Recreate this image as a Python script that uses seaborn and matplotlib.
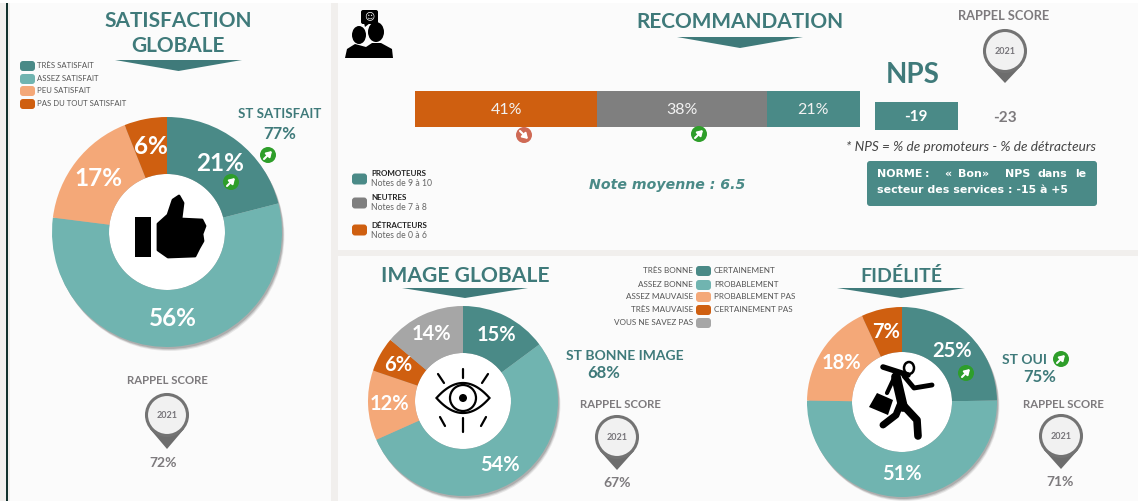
import numpy as np
import pandas as pd
import matplotlib
matplotlib.use("Agg")
import matplotlib.pyplot as plt
from matplotlib.patches import Circle, Polygon, Rectangle, FancyBboxPatch, Ellipse
import seaborn as sns

# Donut values
satisfaction_values = [21, 56, 17, 6]
image_values = [15, 54, 12, 6, 14]
fidelite_values = [25, 51, 18, 7]

# Recommendation bar
reco_labels = ["Détracteurs", "Neutres", "Promoteurs"]
reco_values = [41, 38, 21]

nps_current = "-19"
nps_previous = "-23"

satisfaction_legend = ["TRÈS SATISFAIT", "ASSEZ SATISFAIT", "PEU SATISFAIT", "PAS DU TOUT SATISFAIT"]
image_legend = ["TRÈS BONNE", "ASSEZ BONNE", "ASSEZ MAUVAISE", "TRÈS MAUVAISE", "VOUS NE SAVEZ PAS"]
fidelite_legend = ["CERTAINEMENT", "PROBABLEMENT", "PROBABLEMENT PAS", "CERTAINEMENT PAS"]

DARK_TEAL = "#4a8a87"
LIGHT_TEAL = "#70b4b0"
PEACH = "#f4a878"
ORANGE = "#cf5f10"
GREY = "#7f7f7f"
LIGHT_GREY = "#a6a6a6"
TITLE = "#3f7a7a"
FONT = "Lato"

W, H = 1138, 501

sns.set_theme(style="white")
plt.rcParams["font.family"] = [FONT, "DejaVu Sans"]

fig = plt.figure(figsize=(W / 100, H / 100), dpi=100, facecolor="white")


# Axes placed with pixel coordinates of the picture
def px_axes(x0, y0, x1, y1, zorder):
    ax = fig.add_axes([x0 / W, 1 - y1 / H, (x1 - x0) / W, (y1 - y0) / H], zorder=zorder)
    ax.set_facecolor("none")
    return ax


bg = px_axes(0, 0, W, H, 0)
bg.set_xlim(0, W)
bg.set_ylim(H, 0)
bg.axis("off")
over = px_axes(0, 0, W, H, 5)
over.set_xlim(0, W)
over.set_ylim(H, 0)
over.axis("off")

# Panels behind the charts
bg.add_patch(Rectangle((0, 3), W, H, color="#f1efed", lw=0))
bg.add_patch(Rectangle((10, 3), 321, H, color="#fbfbfb", lw=0))
bg.add_patch(Rectangle((338, 3), W, 247, color="#fbfbfb", lw=0))
bg.add_patch(Rectangle((338, 256), W, H, color="#fbfbfb", lw=0))
bg.add_patch(Rectangle((6, 3), 2, H, color="#12302c", lw=0))


def donut(values, colors, cx, cy, r, r_in, label_r, fs):
    # soft shadow under the ring
    for off, a in [(4, 0.12), (3, 0.18), (2, 0.25)]:
        bg.add_patch(Circle((cx + off * 0.6, cy + off), r, color="#555555", alpha=a, lw=0))
    ax = px_axes(cx - r, cy - r, cx + r, cy + r, 2)
    wedges, _ = ax.pie(values, colors=colors, startangle=90, counterclock=False, radius=1,
                       wedgeprops=dict(width=1 - r_in / r, lw=0))
    ax.set_xlim(-1, 1)
    ax.set_ylim(-1, 1)
    ax.add_patch(Circle((0, 0), r_in / r, color="white", lw=0, zorder=0))
    for w, v in zip(wedges, values):
        a = np.deg2rad((w.theta1 + w.theta2) / 2)
        over.text(cx + label_r * np.cos(a), cy - label_r * np.sin(a), f"{v}%", color="white",
                  fontsize=fs, fontweight="bold", ha="center", va="center")


def title(txt, x, y, fs=15):
    over.text(x, y, txt, color=TITLE, fontsize=fs, fontweight="bold", ha="center", va="center")


def chevron(x0, x1, y0, y1):
    over.add_patch(Polygon([(x0, y0), (x1, y0), ((x0 + x1) / 2, y1)], color=TITLE, lw=0))


def swatch(x, y, c, w=15, h=10):
    over.add_patch(FancyBboxPatch((x + 2, y - h / 2 + 2), w - 4, h - 4, boxstyle="round,pad=2,rounding_size=3",
                                  fc=c, ec="none"))


def badge(x, y, up=True):
    c = "#2e9e2a" if up else "#cf6a55"
    over.add_patch(Circle((x, y), 8, color=c, lw=0))
    d = -1 if up else 1
    over.annotate("", xy=(x + 4, y + d * 4), xytext=(x - 4, y - d * 4),
                  arrowprops=dict(arrowstyle="-|>,head_width=0.16,head_length=0.25", color="white", lw=1.5,
                                  shrinkA=0, shrinkB=0))


def pin(cx, cy, tip, fs=6.5):
    over.add_patch(Polygon([(cx - 17, cy + 14), (cx + 17, cy + 14), (cx, tip)], color="#6d6d6d", lw=0))
    over.add_patch(Circle((cx, cy), 20.5, fc="#f1f1f1", ec="#737373", lw=2.2))
    over.text(cx, cy + 0.5, "2021", color="#77757a", fontsize=fs, fontweight="bold", ha="center", va="center")


def rappel(x, y, score, sx, sy, cx, cy, tip, fs=8.2):
    over.text(x, y, "RAPPEL SCORE", color="#7d7a7d", fontsize=fs, fontweight="bold", ha="center", va="center")
    pin(cx, cy, tip)
    over.text(sx, sy, score, color="#7d7a7d", fontsize=10, fontweight="bold", ha="center", va="center")


# SATISFACTION GLOBALE
title("SATISFACTION", 178, 21)
title("GLOBALE", 178, 46)
chevron(115, 242, 60, 71)
sat_colors = [DARK_TEAL, LIGHT_TEAL, PEACH, ORANGE]
for lab, c, y in zip(satisfaction_legend, sat_colors, [66, 79, 91, 104]):
    swatch(20, y, c)
    over.text(37, y - 0.5, lab, color="#555555", fontsize=5.6, va="center")
donut(satisfaction_values, sat_colors, 167, 232, 115, 58, 87, 17.5)
over.text(280, 114, "ST SATISFAIT", color=TITLE, fontsize=9.5, fontweight="bold", ha="center", va="center")
over.text(280, 134, "77%", color=TITLE, fontsize=12, fontweight="bold", ha="center", va="center")
badge(268, 155)
badge(231, 182)
rappel(167, 381, "72%", 163, 463, 167, 415, 449)

# thumb icon
over.add_patch(Rectangle((135, 217), 16, 40, color="black", lw=0))
over.add_patch(Polygon([(158, 224), (168, 215), (173, 200), (179, 196), (183, 203), (181, 219), (202, 220),
                        (205, 226), (202, 234), (203, 241), (199, 248), (195, 256), (168, 257), (158, 250)],
                       fc="black", ec="black", lw=2, joinstyle="round"))

# RECOMMANDATION
title("RECOMMANDATION", 740, 22)
chevron(677, 803, 37, 48)
bar_ax = px_axes(415, 91, 860, 127, 2)
reco = pd.DataFrame({"segment": reco_labels, "value": reco_values})
reco["cumul"] = reco["value"].cumsum()
# stacked by drawing cumulative bars from longest to shortest
for seg, c in zip(reversed(reco_labels), [DARK_TEAL, GREY, ORANGE]):
    row = reco[reco["segment"] == seg]
    sns.barplot(x=row["cumul"].values, y=[""], color=c, saturation=1, width=1, ax=bar_ax, lw=0)
bar_ax.set_xlim(0, 100)
bar_ax.set_ylim(0.5, -0.5)
bar_ax.axis("off")
start = 0
for v in reco_values:
    over.text(415 + (start + v / 2) * 4.45, 110, f"{v}%", color="#f2f2f2", fontsize=11.5, ha="center", va="center")
    start += v
badge(524, 135, up=False)
badge(699, 134)

over.text(913, 75, "NPS", color=TITLE, fontsize=20, fontweight="bold", ha="center", va="center")
over.add_patch(Rectangle((875, 102), 83, 28, color=DARK_TEAL, lw=0))
over.text(916, 117, nps_current, color="white", fontsize=11, fontweight="bold", ha="center", va="center")
over.text(1005, 118, nps_previous, color="#7d7a7d", fontsize=11, fontweight="bold", ha="center", va="center")
over.text(971, 147, "* NPS = % de promoteurs - % de détracteurs", color="#444444", fontsize=9.8, style="italic",
          ha="center", va="center")
over.add_patch(FancyBboxPatch((869, 163), 226, 41, boxstyle="round,pad=2,rounding_size=3", fc=DARK_TEAL, ec="none"))
# first line of the box is justified, so word by word
for word, x in [("NORME", 877), (":", 925), ("«", 944), ("Bon", 958), ("»", 982), ("NPS", 1005), ("dans", 1038),
                ("le", 1075)]:
    over.text(x, 174, word, color="white", fontsize=7.9, fontweight="bold", family="DejaVu Sans", va="center")
over.text(877, 190, "secteur des services : -15 à +5", color="white", fontsize=7.9, fontweight="bold",
          family="DejaVu Sans", va="center")
over.text(667, 185, "Note moyenne : 6.5", color=DARK_TEAL, fontsize=10.2, fontweight="bold", style="italic",
          family="DejaVu Sans", ha="center", va="center")
rappel(1004, 16, "", 1005, 118, 1005, 51, 83, fs=9.2)

reco_legend = [("PROMOTEURS", "Notes de 9 à 10", DARK_TEAL, 174), ("NEUTRES", "Notes de 7 à 8", GREY, 198),
               ("DÉTRACTEURS", "Notes de 0 à 6", ORANGE, 225)]
for head, sub, c, y in reco_legend:
    swatch(352, y + 5, c, h=11)
    over.text(371, y, head, color="#222222", fontsize=5.8, fontweight="bold", va="center")
    over.text(371, y + 10, sub, color="#666666", fontsize=6.2, va="center")

# people icon
for x, y, rx, ry in [(359, 35, 7, 9), (376, 32, 8, 10)]:
    over.add_patch(Ellipse((x, y), 2 * rx, 2 * ry, color="black", lw=0))
over.add_patch(Polygon([(345, 58), (347, 49), (355, 44), (366, 47), (372, 43), (381, 43), (392, 49), (393, 58)],
                       color="black", lw=0))
over.add_patch(FancyBboxPatch((362, 11), 15, 12, boxstyle="round,pad=1,rounding_size=2", fc="black", ec="none"))
over.add_patch(Polygon([(364, 23), (370, 23), (365, 27)], color="black", lw=0))
over.text(369.5, 16, "☺", color="white", fontsize=7, family="DejaVu Sans", ha="center", va="center")

# IMAGE GLOBALE
title("IMAGE GLOBALE", 465, 276, fs=15.2)
chevron(402, 528, 288, 298)
donut(image_values, [DARK_TEAL, LIGHT_TEAL, PEACH, ORANGE, LIGHT_GREY], 463, 401, 95, 48, 74, 14.5)
over.text(625, 356, "ST BONNE IMAGE", color=TITLE, fontsize=10, fontweight="bold", ha="center", va="center")
over.text(604, 373, "68%", color=TITLE, fontsize=12, fontweight="bold", ha="center", va="center")
rappel(620, 405, "67%", 617, 483, 617, 437, 470)

leg_y = [271, 285, 297, 310, 323]
for lab, c, y in zip(image_legend, [DARK_TEAL, LIGHT_TEAL, PEACH, ORANGE, LIGHT_GREY], leg_y):
    swatch(696, y, c)
    over.text(693, y - 0.5, lab, color="#555555", fontsize=5.9, ha="right", va="center")
for lab, y in zip(fidelite_legend, leg_y):
    over.text(714, y - 0.5, lab, color="#555555", fontsize=5.9, va="center")

# eye icon
t = np.linspace(-1, 1, 60)
eye_top = np.column_stack([463 + 26.5 * t, 398 - 15 * (1 - t ** 2)])
eye_bot = np.column_stack([463 - 26.5 * t, 398 + 15 * (1 - t ** 2)])
over.add_patch(Polygon(np.vstack([eye_top, eye_bot]), fc="white", ec="black", lw=1.6))
over.add_patch(Circle((463, 398), 13, fc="white", ec="black", lw=1.6))
over.add_patch(Circle((463, 398), 4, color="black", lw=0))
for x0, y0, x1, y1 in [(463, 369, 463, 378), (438, 374, 444, 383), (488, 374, 482, 383),
                       (463, 418, 463, 432), (440, 417, 445, 426), (486, 417, 481, 426)]:
    over.plot([x0, x1], [y0, y1], color="black", lw=1.6, solid_capstyle="round")

# FIDELITE
title("FIDÉLITÉ", 901, 276, fs=14)
chevron(837, 965, 288, 298)
donut(fidelite_values, sat_colors, 902, 402, 95, 50, 72, 14.5)
over.text(1002, 360, "ST OUI", color=TITLE, fontsize=10, fontweight="bold", va="center")
over.text(1040, 377, "75%", color=TITLE, fontsize=12, fontweight="bold", ha="center", va="center")
badge(1061, 359)
badge(966, 373)
rappel(1063, 405, "71%", 1060, 482, 1061, 436, 469)

# runner icon
over.add_patch(Ellipse((909, 368), 10, 12, fc="white", ec="black", lw=1.8))
for pts, lw in [([(883, 367), (908, 375)], 4), ([(896, 377), (903, 407)], 7),
                ([(903, 405), (917, 420), (918, 436)], 5.5), ([(900, 405), (896, 415), (883, 425)], 5),
                ([(904, 376), (914, 388), (932, 385)], 3.5), ([(894, 378), (887, 393)], 3)]:
    arr = np.array(pts)
    over.plot(arr[:, 0], arr[:, 1], color="black", lw=lw, solid_capstyle="round", solid_joinstyle="round")
over.add_patch(Polygon([(869, 407), (877, 393), (893, 400), (888, 415)], color="black", lw=0))

fig.savefig("out.png", dpi=100, facecolor="white")
